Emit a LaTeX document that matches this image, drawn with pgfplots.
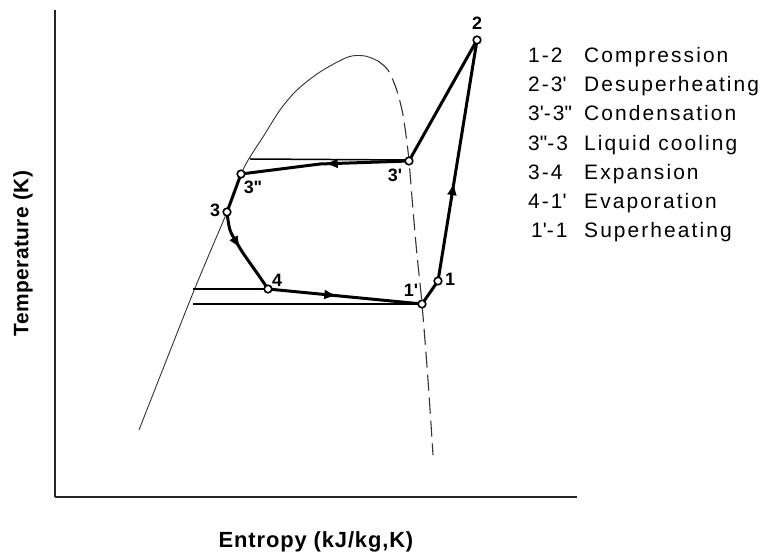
\documentclass[border=0pt]{standalone}
\usepackage{fontspec}
\setmainfont{Liberation Sans}
\newfontfamily\legfont[LetterSpace=10]{Liberation Sans}
\newfontfamily\xlabfont[LetterSpace=4]{Liberation Sans}
\newfontfamily\ylabfont[LetterSpace=2]{Liberation Sans}
\usepackage{pgfplots}
\pgfplotsset{compat=1.18}
\usetikzlibrary{decorations.markings,arrows.meta}

\newcommand{\p}{\textquotesingle}
\newcommand{\pp}{\textquotedbl}
\tikzset{
  proc/.style={black, line width=3bp, line join=round, line cap=round},
  thin line/.style={black, line width=1.5bp},
  midarrow/.style={postaction={decorate}, decoration={markings,
      mark=at position #1 with {\arrow{Latex[length=13bp,width=10bp]}}}},
  ptlabel/.style={font=\fontsize{18}{20}\selectfont\bfseries, inner sep=0pt},
  legrow/.style={font=\fontsize{21}{25}\selectfont\legfont, anchor=west,
      inner sep=0pt, text height=0.72em, text depth=0.2em},
}

\begin{document}
\begin{tikzpicture}
\begin{axis}[
  x=1bp, y=1bp,
  xmin=55, xmax=577, ymin=61, ymax=548,
  axis lines=left,
  axis line style={-, line width=1.8bp, black!85},
  xtick=\empty, ytick=\empty,
  clip=false,
  xlabel={Entropy (kJ/kg,K)},
  ylabel={Temperature (K)},
  xlabel style={font=\fontsize{22}{26}\selectfont\xlabfont\bfseries,
    at={(axis description cs:0.5,-0.0924)}, anchor=center},
  ylabel style={font=\fontsize{21}{25}\selectfont\ylabfont\bfseries,
    at={(axis description cs:-0.0613,0.5)}, anchor=center},
]
% saturation dome: liquid branch and top
\addplot[black!80, line width=0.9bp, smooth, tension=0.5] coordinates {
  (139,128) (193,265) (227,346) (241,384) (250,401) (263,421)
  (280,448) (297,468) (320,486) (348,501) (365,502) (378,497)
};
% saturation dome: vapour branch
\addplot[black!80, line width=1.1bp, dash pattern=on 16bp off 7bp, smooth, tension=0.5] coordinates {
  (378,497) (388,488) (396,470) (402,448) (406,423) (409,397)
  (413,348) (417,303) (422,254) (428,178) (433,103)
};
% isobars inside the dome
\addplot[thin line] coordinates {(250,399) (409,398)};
\addplot[thin line] coordinates {(193,269) (268,269)};
\addplot[thin line] coordinates {(193,254) (422,254)};
% refrigeration cycle
\addplot[proc, midarrow=0.41] coordinates {(438,277) (477,518)};
\addplot[proc] coordinates {(477,518) (409,397)};
\addplot[proc, midarrow=0.5] coordinates {(409,397) (320,394) (241,384)};
\addplot[proc] coordinates {(241,384) (227,346)};
\addplot[proc, midarrow=0.45, smooth, tension=0.6] coordinates {
  (227,346) (230,328) (237,315) (243,305) (257,285) (268,269)};
\addplot[proc, midarrow=0.45] coordinates {(268,269) (422,254)};
\addplot[proc] coordinates {(422,254) (438,277)};
% state points
\addplot[only marks, mark=*, mark size=3.8bp,
  mark options={fill=white, draw=black, line width=1.6bp}] coordinates {
  (477,518) (409,397) (241,384) (227,346) (268,269) (422,254) (438,277)};
% state labels
\node[ptlabel] at (axis cs:477,535) {2};
\node[ptlabel] at (axis cs:395,383) {3\p};
\node[ptlabel] at (axis cs:253,371) {3\pp};
\node[ptlabel] at (axis cs:215,348) {3};
\node[ptlabel] at (axis cs:277,278) {4};
\node[ptlabel] at (axis cs:411,268) {1\p};
\node[ptlabel] at (axis cs:450,279) {1};
% process key
\node[legrow] at (axis cs:528,498)   {1-2};
\node[legrow] at (axis cs:584,498)   {Compression};
\node[legrow] at (axis cs:528,468.8) {2-3\p};
\node[legrow] at (axis cs:584,468.8) {Desuperheating};
\node[legrow] at (axis cs:528,439.6) {3\p-3\pp};
\node[legrow] at (axis cs:584,439.6) {Condensation};
\node[legrow] at (axis cs:528,410.4) {3\pp-3};
\node[legrow] at (axis cs:584,410.4) {Liquid cooling};
\node[legrow] at (axis cs:528,381.2) {3-4};
\node[legrow] at (axis cs:584,381.2) {Expansion};
\node[legrow] at (axis cs:528,352)   {4-1\p};
\node[legrow] at (axis cs:584,352)   {Evaporation};
\node[legrow] at (axis cs:531,322.8) {1\p-1};
\node[legrow] at (axis cs:584,322.8) {Superheating};
\coordinate (bbll) at (axis cs:0,0);
\coordinate (bbur) at (axis cs:765,558);
\end{axis}
\pgfresetboundingbox
\path[use as bounding box] (bbll) rectangle (bbur);
\end{tikzpicture}
\end{document}
